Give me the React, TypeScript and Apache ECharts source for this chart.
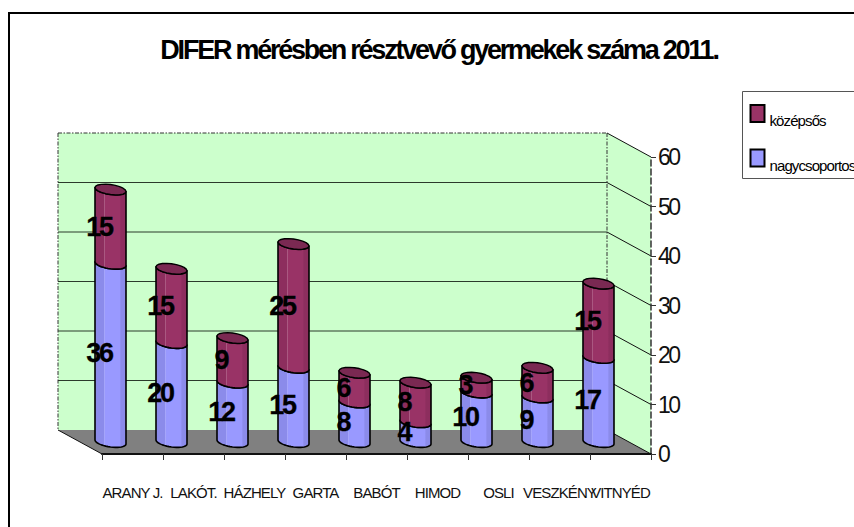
import React, { useEffect, useRef } from "react";
import * as echarts from "echarts";

const titleText = "DIFER mérésben résztvevő gyermekek száma 2011.";
const categories = ["ARANY J.", "LAKÓT.", "HÁZHELY", "GARTA", "BABÓT", "HIMOD", "OSLI", "VESZKÉNY", "VITNYÉD"];
const nagycsoportos = [36, 20, 12, 15, 8, 4, 10, 9, 17];
const kozepsos = [15, 15, 9, 25, 6, 8, 3, 6, 15];
const yTicks = [0, 10, 20, 30, 40, 50, 60];

const FONT = "'Liberation Sans', Arial, sans-serif";
const DX = -44;
const DY = -24;
const BAR_DX = -22;
const BAR_DY = -12;
const HALF_W = 15.5;
const SKEW = 2;
const MINOR = 5;
const LABEL_DX = -11.5;

function ring(cx: number, cy: number, from: number, to: number) {
  const pts: number[][] = [];
  const n = 20;
  for (let k = 0; k <= n; k++) {
    const t = ((from + ((to - from) * k) / n) * Math.PI) / 180;
    pts.push([cx + HALF_W * Math.cos(t), cy + SKEW * Math.cos(t) + MINOR * Math.sin(t)]);
  }
  return pts;
}

function sideFill(dark: string, main: string, light: string) {
  return new echarts.graphic.LinearGradient(0, 0, 1, 0, [
    { offset: 0, color: dark },
    { offset: 0.29, color: dark },
    { offset: 0.3, color: light },
    { offset: 0.32, color: main },
    { offset: 0.81, color: main },
    { offset: 0.83, color: dark },
    { offset: 1, color: dark },
  ]);
}

function makeBarRenderer(colors: { dark: string; main: string; light: string; cap?: string }) {
  return (_params: any, api: any) => {
    const i = api.value(0);
    const value = api.value(1);
    const base = api.value(2);
    const p0 = api.coord([i, base]);
    const p1 = api.coord([i, base + value]);
    const cx = p0[0] + BAR_DX;
    const y0 = p0[1] + BAR_DY;
    const y1 = p1[1] + BAR_DY;
    const lowerTop = ring(cx, y1, 0, 180); // right -> left
    const lowerBottom = ring(cx, y0, 180, 0); // left -> right
    const children: any[] = [
      {
        type: "polygon",
        shape: { points: [...lowerTop, ...lowerBottom] },
        style: {
          fill: sideFill(colors.dark, colors.main, colors.light),
          stroke: "#000",
          lineWidth: 1.6,
          lineJoin: "round",
        },
      },
    ];
    if (colors.cap) {
      children.push({
        type: "polygon",
        shape: { points: ring(cx, y1, 0, 360) },
        style: { fill: colors.cap, stroke: "#000", lineWidth: 1.4, lineJoin: "round" },
      });
    }
    children.push({
      type: "text",
      z2: 100,
      style: {
        text: String(value),
        x: cx + LABEL_DX,
        y: (y0 + y1) / 2,
        align: "center",
        verticalAlign: "middle",
        fill: "#000",
        stroke: "#000",
        lineWidth: 0.3,
        font: `bold 27px ${FONT}`,
      },
    });
    return { type: "group", children };
  };
}

function renderWalls(params: any, api: any) {
  const cs = params.coordSys;
  const left = cs.x;
  const right = cs.x + cs.width;
  const top = cs.y;
  const bottom = cs.y + cs.height;
  const line = (x1: number, y1: number, x2: number, y2: number, stroke: string, extra: any = {}) => ({
    type: "line",
    shape: { x1, y1, x2, y2 },
    style: { stroke, lineWidth: 1, ...extra },
  });
  const children: any[] = [
    {
      type: "rect",
      shape: { x: left + DX, y: top + DY, width: cs.width, height: cs.height },
      style: { fill: "#CCFFCC" },
    },
    {
      type: "polygon",
      shape: { points: [[right + DX, top + DY], [right, top], [right, bottom], [right + DX, bottom + DY]] },
      style: { fill: "#CCFFCC" },
    },
    {
      type: "polygon",
      shape: { points: [[left + DX, bottom + DY], [right + DX, bottom + DY], [right, bottom], [left, bottom]] },
      style: { fill: "#808080" },
    },
  ];
  yTicks.forEach((v) => {
    const y = api.coord([0, v])[1];
    if (v > 0 && v < 60) {
      children.push(line(left + DX, y + DY, right + DX, y + DY, "#2b3a2b"));
    }
    children.push(line(right + DX, y + DY, right, y, "#111"));
  });
  children.push(line(left + DX, bottom + DY, left, bottom, "#111"));
  const dash = { lineDash: [4, 1.5, 1.5, 1.5] };
  children.push(line(left + DX, top + DY, right + DX, top + DY, "#333", dash));
  children.push(line(left + DX, top + DY, left + DX, bottom + DY, "#333", dash));
  children.push(line(right + DX, top + DY, right + DX, bottom + DY, "#333", dash));
  return { type: "group", children };
}

export default function App() {
  const ref = useRef<HTMLDivElement>(null);
  useEffect(() => {
    if (!ref.current) return;
    const chart = echarts.init(ref.current, undefined, { renderer: "svg" });
    chart.setOption({
      animation: false,
      backgroundColor: "#fff",
      title: {
        text: titleText,
        left: 434,
        top: 31,
        textAlign: "center",
        textStyle: { fontFamily: FONT, fontWeight: "bold", fontSize: 27, color: "#000" },
      },
      legend: {
        orient: "vertical",
        left: 749.5,
        top: 99,
        itemWidth: 14,
        itemHeight: 17,
        itemGap: 15.5,
        icon: "rect",
        padding: 0,
        selectedMode: false,
        data: ["középsős", "nagycsoportos"],
        formatter: (name: string) => "\n" + name,
        textStyle: { fontFamily: FONT, fontSize: 15, lineHeight: 14, color: "#000" },
      },
      grid: { left: 102, right: 203, top: 157, bottom: 73 },
      xAxis: {
        type: "category",
        data: categories,
        z: 2,
        axisLine: { lineStyle: { color: "#111", width: 2 } },
        axisTick: { show: true, alignWithLabel: false, length: 6, lineStyle: { color: "#333", width: 1 } },
        axisLabel: { interval: 0, margin: 31, fontFamily: FONT, fontSize: 15, color: "#111" },
      },
      yAxis: {
        type: "value",
        position: "right",
        min: 0,
        max: 60,
        interval: 10,
        z: 2,
        splitLine: { show: false },
        axisLine: { show: true, lineStyle: { color: "#333", width: 1.5, type: "dashed" } },
        axisTick: { show: true, length: 5, lineStyle: { color: "#333" } },
        axisLabel: { margin: 7, fontFamily: FONT, fontSize: 23, color: "#111" },
      },
      series: [
        {
          type: "custom",
          name: "walls",
          z: 1,
          silent: true,
          renderItem: renderWalls,
          data: [[0, 0]],
          encode: { x: 0, y: 1 },
        },
        {
          type: "custom",
          name: "nagycsoportos",
          z: 3,
          itemStyle: { color: "#9999FF", borderColor: "#000", borderWidth: 2 },
          renderItem: makeBarRenderer({ dark: "#8B8BEA", main: "#9999FF", light: "#ABABF8" }),
          data: nagycsoportos.map((v, i) => [i, v, 0]),
          encode: { x: 0, y: 1 },
        },
        {
          type: "custom",
          name: "középsős",
          z: 3,
          itemStyle: { color: "#993366", borderColor: "#000", borderWidth: 2 },
          renderItem: makeBarRenderer({ dark: "#8D2E5E", main: "#993366", light: "#B26A8E", cap: "#7A2952" }),
          data: kozepsos.map((v, i) => [i, v, nagycsoportos[i]]),
          encode: { x: 0, y: 1 },
        },
      ],
      graphic: [
        {
          type: "rect",
          z: -1,
          shape: { x: 9, y: 13, width: 860, height: 530 },
          style: { fill: "none", stroke: "#000", lineWidth: 2 },
        },
        {
          type: "rect",
          z: -1,
          shape: { x: 742.5, y: 91.5, width: 130, height: 87 },
          style: { fill: "#fff", stroke: "#555", lineWidth: 1 },
        },
      ],
    });
    return () => chart.dispose();
  }, []);
  return (
    <>
      <style>{`
        svg text { letter-spacing: -0.06em; }
        svg text[style*="27px"] { letter-spacing: -0.083em; }
        svg text[style*="23px"] { letter-spacing: -0.11em; }
      `}</style>
      <div ref={ref} style={{ position: "fixed", left: 0, top: 0, width: 854, height: 527 }} />
    </>
  );
}
